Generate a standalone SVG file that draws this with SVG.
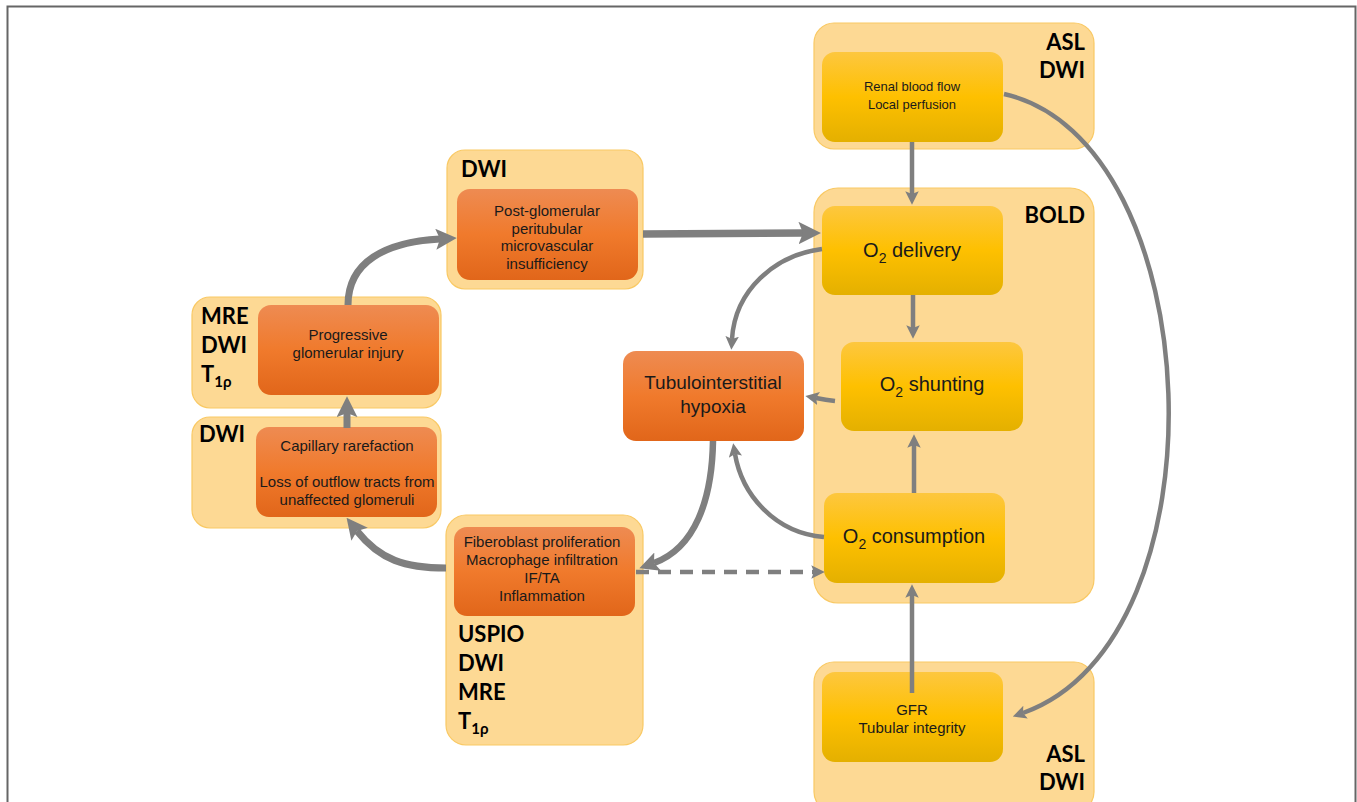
<svg xmlns="http://www.w3.org/2000/svg" width="1357" height="802" viewBox="0 0 1357 802">
<defs>
<linearGradient id="gy" x1="0" y1="0" x2="0" y2="1">
<stop offset="0" stop-color="#FDC73F"/><stop offset="0.5" stop-color="#FEC000"/><stop offset="1" stop-color="#E4B000"/>
</linearGradient>
<linearGradient id="go" x1="0" y1="0" x2="0" y2="1">
<stop offset="0" stop-color="#EE8B52"/><stop offset="0.5" stop-color="#F07A2C"/><stop offset="1" stop-color="#E1661A"/>
</linearGradient>
<marker id="ah" viewBox="0 0 10 10" refX="2" refY="5" markerWidth="3" markerHeight="3" orient="auto" markerUnits="strokeWidth">
<path d="M0,0 L10,5 L0,10 L2,5 z" fill="#7F7F7F"/>
</marker>
<style>
.outer{fill:#FDD994;stroke:#F9C964;stroke-width:1.2}
.iy{fill:url(#gy)}
.io{fill:url(#go)}
.t{font-family:"Liberation Sans",Arial,sans-serif;font-size:15px;fill:#1a1a1a;text-anchor:middle}
.tl{font-family:"Liberation Sans",Arial,sans-serif;font-size:20px;fill:#1a1a1a;text-anchor:middle}
.lb{font-family:Lato,"Open Sans",sans-serif;font-weight:bold;font-size:22px;fill:#000}
.r{text-anchor:end}
.c{fill:none;stroke:#7F7F7F;marker-end:url(#ah)}
.thin{stroke-width:4.5}
.thick{stroke-width:7}
</style>
</defs>
<rect x="7.5" y="6.5" width="1348" height="810" fill="#fff" stroke="#666" stroke-width="2"/>

<g id="n-renal">
<rect class="outer" x="814" y="23" width="280" height="126" rx="20"/>
<rect class="iy" x="822" y="52" width="181" height="90" rx="13"/>
<text class="t" x="912" y="91" style="font-size:13px">Renal blood flow</text>
<text class="t" x="912" y="109" style="font-size:13px">Local perfusion</text>
<text class="lb r" x="1085" y="50">ASL</text>
<text class="lb r" x="1085" y="78">DWI</text>
</g>

<g id="n-bold">
<rect class="outer" x="814" y="188" width="280" height="415" rx="24"/>
<text class="lb r" x="1085" y="223">BOLD</text>
</g>

<g id="n-delivery">
<rect class="iy" x="822" y="206" width="181" height="89" rx="13"/>
<text class="tl" x="912" y="257">O<tspan font-size="14" dy="6">2</tspan><tspan dy="-6"> delivery</tspan></text>
</g>

<g id="n-shunting">
<rect class="iy" x="841" y="342" width="182" height="89" rx="13"/>
<text class="tl" x="932" y="391">O<tspan font-size="14" dy="6">2</tspan><tspan dy="-6"> shunting</tspan></text>
</g>

<g id="n-consumption">
<rect class="iy" x="824" y="493" width="181" height="90" rx="13"/>
<text class="tl" x="914" y="543">O<tspan font-size="14" dy="6">2</tspan><tspan dy="-6"> consumption</tspan></text>
</g>

<g id="n-gfr">
<rect class="outer" x="814" y="662" width="280" height="150" rx="20"/>
<rect class="iy" x="822" y="672" width="181" height="90" rx="13"/>
<text class="t" x="912" y="715">GFR</text>
<text class="t" x="912" y="733">Tubular integrity</text>
<text class="lb r" x="1085" y="762">ASL</text>
<text class="lb r" x="1085" y="790">DWI</text>
</g>

<g id="n-hypoxia">
<rect class="io" x="623" y="351" width="181" height="90" rx="13"/>
<text class="t" x="713" y="389" style="font-size:19px">Tubulointerstitial</text>
<text class="t" x="713" y="413" style="font-size:19px">hypoxia</text>
</g>

<g id="n-postglom">
<rect class="outer" x="447" y="150" width="196" height="139" rx="18"/>
<rect class="io" x="457" y="189" width="181" height="91" rx="13"/>
<text class="lb" x="461" y="177">DWI</text>
<text class="t" x="547" y="216">Post-glomerular</text>
<text class="t" x="547" y="234">peritubular</text>
<text class="t" x="547" y="251">microvascular</text>
<text class="t" x="547" y="269">insufficiency</text>
</g>

<g id="n-progressive">
<rect class="outer" x="192" y="297" width="249" height="111" rx="18"/>
<rect class="io" x="258" y="305" width="181" height="90" rx="13"/>
<text class="lb" x="201" y="324">MRE</text>
<text class="lb" x="201" y="353">DWI</text>
<text class="lb" x="201" y="382">T<tspan font-size="15" dy="5">1ρ</tspan></text>
<text class="t" x="348" y="340">Progressive</text>
<text class="t" x="348" y="358">glomerular injury</text>
</g>

<g id="n-capillary">
<rect class="outer" x="192" y="417" width="249" height="111" rx="18"/>
<rect class="io" x="256" y="427" width="181" height="90" rx="13"/>
<text class="lb" x="199" y="442">DWI</text>
<text class="t" x="347" y="451">Capillary rarefaction</text>
<text class="t" x="347" y="487">Loss of outflow tracts from</text>
<text class="t" x="347" y="505">unaffected glomeruli</text>
</g>

<g id="n-fibroblast">
<rect class="outer" x="446" y="515" width="197" height="230" rx="20"/>
<rect class="io" x="454" y="527" width="181" height="89" rx="13"/>
<text class="t" x="542" y="547">Fiberoblast proliferation</text>
<text class="t" x="542" y="565">Macrophage infiltration</text>
<text class="t" x="542" y="583">IF/TA</text>
<text class="t" x="542" y="601">Inflammation</text>
<text class="lb" x="458" y="642">USPIO</text>
<text class="lb" x="458" y="671">DWI</text>
<text class="lb" x="458" y="700">MRE</text>
<text class="lb" x="458" y="729">T<tspan font-size="15" dy="5">1ρ</tspan></text>
</g>

<g id="connectors">
<path class="c thin" d="M912 142 L912 194"/>
<path class="c thin" d="M913 295 L913 328"/>
<path class="c thin" d="M914 493 L914 445"/>
<path class="c thin" d="M912 693 L912 595"/>
<path class="c thin" d="M835 401 Q826 400 816 398"/>
<path class="c thin" d="M824 537 C775 533 742 495 735 454"/>
<path class="c thin" d="M822 249 C775 255 735 290 732 339"/>
<path class="c thin" d="M1004 94 C1210 140 1230 640 1023 713"/>
<path class="c thin" d="M636 572 L814 572" stroke-dasharray="13 9"/>
<path class="c" stroke-width="6.5" d="M713 441 C712 500 695 548 654 563"/>
<path class="c" stroke-width="7.5" d="M643 234 L803 233"/>
<path class="c thick" d="M348 305 C348 262 385 242 440 239"/>
<path class="c thick" d="M347 428 L347 413"/>
<path class="c thick" d="M446 568 C405 568 380 560 357 531"/>
</g>
</svg>
